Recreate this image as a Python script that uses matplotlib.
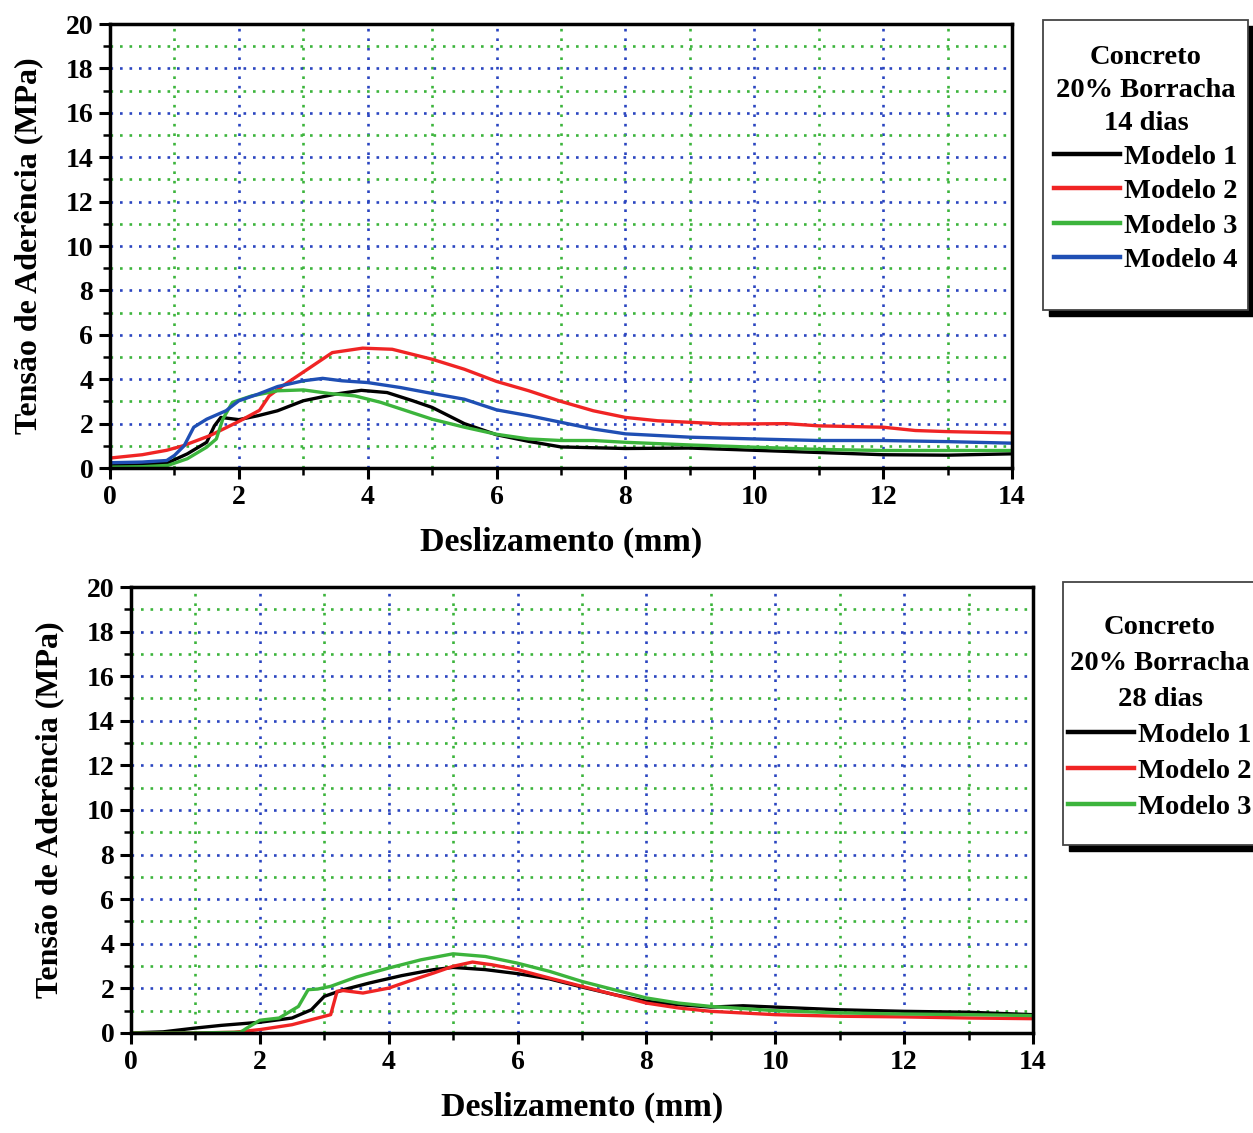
import numpy as np
import matplotlib.pyplot as plt
from matplotlib.ticker import MultipleLocator
from matplotlib.patches import Rectangle
from matplotlib.lines import Line2D

plt.rcParams['font.family'] = ['Liberation Serif', 'DejaVu Serif']
plt.rcParams['font.weight'] = 'bold'

# ---- 14 dias ----
x14_m1 = [0, 0.5, 0.9, 1.2, 1.5, 1.62, 1.72, 2.0, 2.3, 2.6, 3.0, 3.5, 3.9, 4.3, 4.7, 5.0, 5.5,
          6.0, 6.5, 7.0, 8.0, 9.0, 10.0, 11.0, 12.0, 13.0, 14.0]
y14_m1 = [0.1, 0.15, 0.24, 0.64, 1.16, 1.9, 2.28, 2.18, 2.36, 2.58, 3.03, 3.33, 3.5, 3.4, 3.03, 2.73, 2.0,
          1.5, 1.2, 0.95, 0.88, 0.9, 0.8, 0.7, 0.6, 0.58, 0.64]
x14_m2 = [0, 0.5, 0.88, 1.13, 1.55, 2.0, 2.32, 2.47, 2.68, 3.04, 3.45, 3.92, 4.38, 5.0, 5.5, 6.0, 6.5,
          7.0, 7.5, 8.0, 8.5, 9.0, 9.5, 10.0, 10.5, 11.0, 12.0, 12.5, 13.0, 14.0]
y14_m2 = [0.45, 0.6, 0.8, 1.0, 1.46, 2.1, 2.6, 3.25, 3.7, 4.4, 5.2, 5.4, 5.35, 4.9, 4.45, 3.9, 3.48,
          3.0, 2.58, 2.28, 2.13, 2.06, 1.99, 1.99, 2.0, 1.9, 1.84, 1.69, 1.64, 1.58]
x14_m3 = [0, 0.5, 0.9, 1.2, 1.5, 1.65, 1.75, 1.9, 2.2, 2.6, 3.0, 3.4, 3.8, 4.2, 4.6, 5.0, 5.5, 6.0,
          6.5, 7.0, 7.5, 8.0, 9.0, 10.0, 11.0, 12.0, 13.0, 14.0]
y14_m3 = [0.04, 0.06, 0.12, 0.42, 0.94, 1.31, 2.2, 2.96, 3.25, 3.48, 3.52, 3.36, 3.25, 2.96, 2.58, 2.2,
          1.84, 1.52, 1.31, 1.24, 1.24, 1.16, 1.04, 0.94, 0.84, 0.79, 0.79, 0.79]
x14_m4 = [0, 0.5, 0.88, 1.0, 1.15, 1.3, 1.5, 1.8, 2.0, 2.3, 2.6, 3.0, 3.3, 3.6, 4.0, 4.5, 5.0, 5.5,
          6.0, 6.5, 7.0, 7.5, 8.0, 9.0, 10.0, 11.0, 12.0, 13.0, 14.0]
y14_m4 = [0.24, 0.27, 0.34, 0.57, 1.0, 1.84, 2.2, 2.58, 3.03, 3.33, 3.67, 3.93, 4.04, 3.93, 3.85, 3.63,
          3.36, 3.1, 2.62, 2.36, 2.06, 1.76, 1.54, 1.39, 1.31, 1.24, 1.24, 1.19, 1.12]

# ---- 28 dias ----
x28_m1 = [0, 0.5, 1.0, 1.4, 2.0, 2.5, 2.8, 3.0, 3.3, 3.7, 4.2, 4.7, 5.0, 5.5, 6.0, 6.5, 7.0, 7.5,
          8.0, 8.5, 9.0, 9.5, 10.0, 11.0, 12.0, 13.0, 14.0]
y28_m1 = [0.0, 0.05, 0.22, 0.34, 0.48, 0.67, 1.04, 1.64, 1.94, 2.24, 2.57, 2.84, 2.94, 2.84, 2.66, 2.42,
          2.06, 1.72, 1.42, 1.27, 1.16, 1.22, 1.16, 1.04, 0.97, 0.93, 0.82]
x28_m2 = [0, 1.0, 1.6, 2.0, 2.5, 2.9, 3.1, 3.2, 3.3, 3.6, 4.0, 4.3, 4.7, 5.0, 5.3, 5.6, 6.0, 6.5,
          7.0, 7.5, 8.0, 8.5, 9.0, 10.0, 11.0, 12.0, 13.0, 14.0]
y28_m2 = [0.0, 0.0, 0.03, 0.15, 0.37, 0.67, 0.82, 1.87, 1.9, 1.79, 2.01, 2.31, 2.69, 2.99, 3.18, 3.06,
          2.84, 2.46, 2.09, 1.72, 1.34, 1.12, 0.97, 0.82, 0.75, 0.72, 0.67, 0.64]
x28_m3 = [0, 1.0, 1.7, 1.8, 2.0, 2.3, 2.6, 2.75, 2.9, 3.1, 3.5, 4.0, 4.5, 5.0, 5.5, 6.0, 6.5, 7.0,
          7.5, 8.0, 8.5, 9.0, 10.0, 11.0, 12.0, 13.0, 14.0]
y28_m3 = [0.0, 0.0, 0.03, 0.22, 0.57, 0.67, 1.19, 1.94, 1.97, 2.09, 2.51, 2.91, 3.28, 3.55, 3.43, 3.13,
          2.76, 2.31, 1.94, 1.57, 1.34, 1.19, 1.0, 0.9, 0.85, 0.82, 0.78]

labels = ['Modelo 1', 'Modelo 2', 'Modelo 3', 'Modelo 4']
colors = ['#000000', '#f02424', '#3cb43c', '#1f4fb4']

fig = plt.figure(figsize=(12.53, 11.33), dpi=100)
ax1 = fig.add_axes([0.0878, 0.5869, 0.7199, 0.3919])
ax2 = fig.add_axes([0.1045, 0.0883, 0.7199, 0.3936])


def style(ax):
    ax.set_xlim(0, 14)
    ax.set_ylim(0, 20)
    ax.xaxis.set_major_locator(MultipleLocator(2))
    ax.xaxis.set_minor_locator(MultipleLocator(1))
    ax.yaxis.set_major_locator(MultipleLocator(2))
    ax.yaxis.set_minor_locator(MultipleLocator(1))
    ax.grid(which='major', color='#2a45c0', linestyle=(0, (1, 2.6)), linewidth=1.9)
    ax.grid(which='minor', color='#3cb43c', linestyle=(0, (1, 2.6)), linewidth=1.9)
    ax.set_axisbelow(True)
    for s in ax.spines.values():
        s.set_linewidth(2.5)
    ax.tick_params(which='major', direction='out', length=8, width=2.2, labelsize=20, pad=4)
    ax.tick_params(which='minor', direction='out', length=5, width=1.8)
    ax.set_xlabel('Deslizamento (mm)', fontsize=24.5, fontweight='bold', labelpad=12)
    ax.set_ylabel('Tensão de Aderência (MPa)', fontsize=23, fontweight='bold', labelpad=16)


style(ax1)
style(ax2)

ax1.plot(x14_m1, y14_m1, color=colors[0], lw=2.4)
ax1.plot(x14_m2, y14_m2, color=colors[1], lw=2.4)
ax1.plot(x14_m3, y14_m3, color=colors[2], lw=2.4)
ax1.plot(x14_m4, y14_m4, color=colors[3], lw=2.4)

ax2.plot(x28_m1, y28_m1, color=colors[0], lw=2.4)
ax2.plot(x28_m2, y28_m2, color=colors[1], lw=2.4)
ax2.plot(x28_m3, y28_m3, color=colors[2], lw=2.4)


def legend_box(x0, y0, x1, y1, off):
    # pixel box (from top-left) -> figure coords, with black drop shadow
    W, H = 1253, 1133
    fig.add_artist(Rectangle(((x0 + off) / W, 1 - (y1 + off) / H), (x1 - x0) / W, (y1 - y0) / H,
                             transform=fig.transFigure, fc='black', ec='black', zorder=3))
    fig.add_artist(Rectangle((x0 / W, 1 - y1 / H), (x1 - x0) / W, (y1 - y0) / H,
                             transform=fig.transFigure, fc='white', ec='#444444', lw=1.3, zorder=4))


legend_box(1043, 20, 1248, 310, 6)
legend_box(1063, 582, 1265, 845, 6)

h14 = [Line2D([], [], color=c, lw=3.2) for c in colors]
leg1 = fig.legend(h14, labels, title='Concreto\n20% Borracha\n14 dias', loc='upper center',
                  bbox_to_anchor=(1146 / 1253, 1 - 19 / 1133), frameon=False,
                  prop={'size': 20.5, 'weight': 'bold'},
                  title_fontproperties={'size': 20.5, 'weight': 'bold'},
                  handlelength=2.3, handletextpad=0.15, labelspacing=0.29, alignment='center')
leg1.get_title().set_multialignment('center')
leg1.get_title().set_linespacing(1.43)
leg1.set_zorder(5)

leg2 = fig.legend(h14[:3], labels[:3], title='Concreto\n20% Borracha\n28 dias', loc='upper center',
                  bbox_to_anchor=(1160 / 1253, 1 - 589 / 1133), frameon=False,
                  prop={'size': 20.5, 'weight': 'bold'},
                  title_fontproperties={'size': 20.5, 'weight': 'bold'},
                  handlelength=2.3, handletextpad=0.15, labelspacing=0.36, alignment='center')
leg2.get_title().set_multialignment('center')
leg2.get_title().set_linespacing(1.58)
leg2.set_zorder(5)

fig.savefig('out.png', dpi=100)
